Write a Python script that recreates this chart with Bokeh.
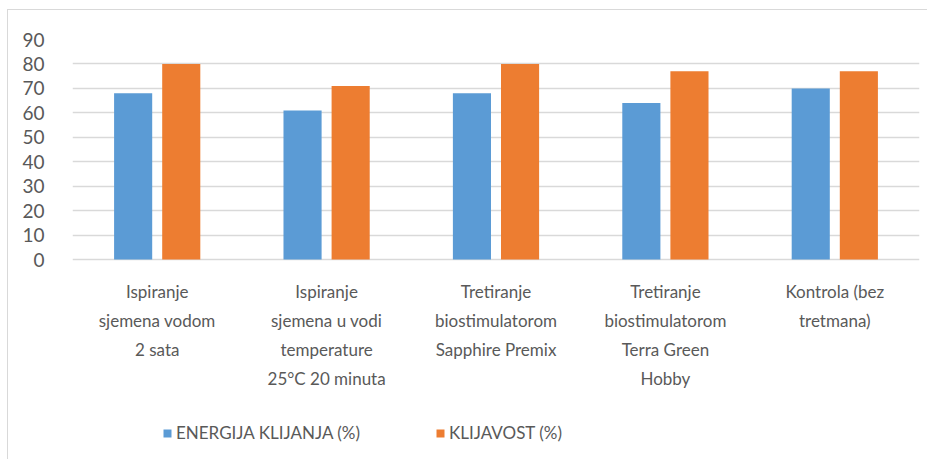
from bokeh.plotting import figure
from bokeh.models import ColumnDataSource, FactorRange, Legend, LegendItem, FixedTicker
from bokeh.core.properties import value
from bokeh.transform import dodge
from bokeh.embed import file_html
from bokeh.resources import INLINE

categories = [
    "Ispiranje sjemena vodom 2 sata",
    "Ispiranje sjemena u vodi temperature 25°C 20 minuta",
    "Tretiranje biostimulatorom Sapphire Premix",
    "Tretiranje biostimulatorom Terra Green Hobby",
    "Kontrola (bez tretmana)",
]
category_lines = [
    ["Ispiranje", "sjemena vodom", "2 sata"],
    ["Ispiranje", "sjemena u vodi", "temperature", "25°C 20 minuta"],
    ["Tretiranje", "biostimulatorom", "Sapphire Premix"],
    ["Tretiranje", "biostimulatorom", "Terra Green", "Hobby"],
    ["Kontrola (bez", "tretmana)"],
]
energija = [68, 61, 68, 64, 70]
klijavost = [80, 71, 80, 77, 77]
series_names = ["ENERGIJA KLIJANJA (%)", "KLIJAVOST (%)"]
y_ticks = [0, 10, 20, 30, 40, 50, 60, 70, 80, 90]

FONT = "Lato"
BLUE = "#5B9BD5"
ORANGE = "#ED7D31"
GRID = "#D9D9D9"
TXT = "#595959"

# frame spans value axis area plus the label/legend area below it
PX_PER_UNIT = 220 / 90.0
Y_BOTTOM = -(196 / PX_PER_UNIT)

src = ColumnDataSource(dict(cat=categories, e=energija, k=klijavost))

lx, lt, lo = [], [], []
for c, lines in zip(categories, category_lines):
    for i, t in enumerate(lines):
        lx.append(c)
        lt.append(t)
        lo.append(31.7 + 29.2 * i)
lsrc = ColumnDataSource(dict(x=lx, text=lt, yoff=lo, y=[0] * len(lx)))

p = figure(
    x_range=FactorRange(factors=categories, range_padding=0),
    y_range=(Y_BOTTOM, 90),
    width=920, height=450,
    output_backend="svg", toolbar_location=None,
    min_border_left=64, min_border_right=9, min_border_top=29, min_border_bottom=5,
)
p.styles = {"margin-left": "7px", "margin-top": "9px",
            "border-top": "1px solid #D9D9D9", "border-left": "1px solid #D9D9D9"}
p.outline_line_color = None
p.background_fill_color = "white"
p.border_fill_color = "white"

r1 = p.vbar(x=dodge("cat", -0.142, range=p.x_range), top="e", bottom=0, width=0.225, source=src,
            fill_color=BLUE, line_color=None)
r2 = p.vbar(x=dodge("cat", 0.142, range=p.x_range), top="k", bottom=0, width=0.225, source=src,
            fill_color=ORANGE, line_color=None)

p.text(x="x", y="y", text="text", y_offset="yoff", source=lsrc,
       text_font=value(FONT), text_font_size="17px", text_color=TXT,
       text_align="center", text_baseline="middle")

p.xaxis.visible = False
p.xgrid.grid_line_color = None
p.yaxis.ticker = FixedTicker(ticks=y_ticks)
p.ygrid.grid_line_color = GRID
p.ygrid.grid_line_width = 1.5

p.yaxis.axis_line_color = None
p.yaxis.major_tick_line_color = None
p.yaxis.minor_tick_line_color = None
p.yaxis.major_label_text_font = FONT
p.yaxis.major_label_text_font_size = "19px"
p.yaxis.major_label_text_color = TXT
p.yaxis.major_label_standoff = 22

common = dict(orientation="horizontal", glyph_width=10, glyph_height=10, label_standoff=4,
              padding=0, margin=0, border_line_color=None, background_fill_alpha=0,
              label_text_font=FONT, label_text_font_size="17px", label_text_color=TXT)
leg1 = Legend(items=[LegendItem(label=series_names[0], renderers=[r1])], location=(90, 12), **common)
leg2 = Legend(items=[LegendItem(label=series_names[1], renderers=[r2])], location=(363, 12), **common)
p.add_layout(leg1, "center")
p.add_layout(leg2, "center")

open("out.html", "w").write(file_html(p, INLINE))
